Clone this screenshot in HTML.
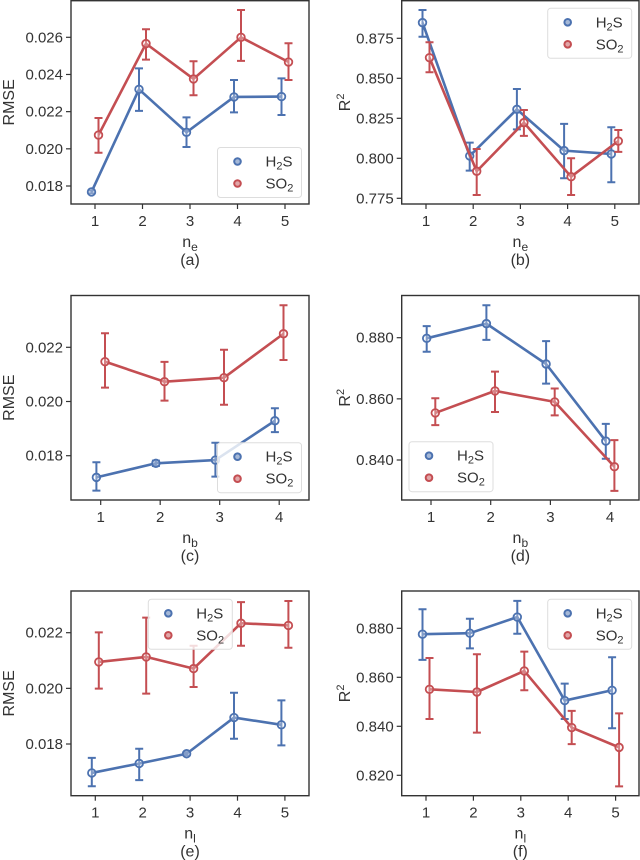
<!DOCTYPE html>
<html><head><meta charset="utf-8">
<style>
html,body{margin:0;padding:0;background:#fff;}
svg{display:block;font-family:"Liberation Sans","DejaVu Sans",sans-serif;}
</style></head>
<body>
<svg id="fig" width="640" height="860" viewBox="0 0 640 860" xmlns="http://www.w3.org/2000/svg"></svg>
<script>
// ---- data (a) ----
const aCats=[1,2,3,4,5];
const aH2S=[0.01768,0.02320,0.02089,0.02279,0.02281];
const aH2SLo=[0.01760,0.02204,0.02010,0.02196,0.02182];
const aH2SHi=[0.01776,0.02433,0.02169,0.02370,0.02379];
const aSO2=[0.02074,0.02566,0.02376,0.02600,0.02467];
const aSO2Lo=[0.01979,0.02480,0.02288,0.02473,0.02370];
const aSO2Hi=[0.02166,0.02643,0.02471,0.02747,0.02568];
const aTicks=[0.018,0.020,0.022,0.024,0.026];
const aTickLabels=["0.018","0.020","0.022","0.024","0.026"];
// ---- data (b) ----
const bCats=[1,2,3,4,5];
const bH2S=[0.8848,0.8015,0.8306,0.8048,0.8027];
const bH2SLo=[0.8760,0.7923,0.8181,0.7875,0.7850];
const bH2SHi=[0.8927,0.8098,0.8433,0.8215,0.8194];
const bSO2=[0.8629,0.7919,0.8223,0.7885,0.8108];
const bSO2Lo=[0.8538,0.7771,0.8140,0.7771,0.8040];
const bSO2Hi=[0.8725,0.8058,0.8302,0.8000,0.8177];
const bTicks=[0.775,0.800,0.825,0.850,0.875];
const bTickLabels=["0.775","0.800","0.825","0.850","0.875"];
// ---- data (c) ----
const cCats=[1,2,3,4];
const cH2S=[0.01720,0.01772,0.01784,0.01929];
const cH2SLo=[0.01671,0.01762,0.01723,0.01887];
const cH2SHi=[0.01776,0.01782,0.01848,0.01975];
const cSO2=[0.02147,0.02073,0.02088,0.02250];
const cSO2Lo=[0.02051,0.02003,0.01988,0.02153];
const cSO2Hi=[0.02252,0.02146,0.02191,0.02355];
const cTicks=[0.018,0.020,0.022];
const cTickLabels=["0.018","0.020","0.022"];
// ---- data (d) ----
const dCats=[1,2,3,4];
const dH2S=[0.8798,0.8846,0.8714,0.8462];
const dH2SLo=[0.8754,0.8793,0.8650,0.8404];
const dH2SHi=[0.8838,0.8906,0.8789,0.8518];
const dSO2=[0.8554,0.8626,0.8590,0.8378];
const dSO2Lo=[0.8514,0.8557,0.8546,0.8299];
const dSO2Hi=[0.8602,0.8689,0.8634,0.8465];
const dTicks=[0.840,0.860,0.880];
const dTickLabels=["0.840","0.860","0.880"];
// ---- data (e) ----
const eCats=[1,2,3,4,5];
const eH2S=[0.01696,0.01730,0.01765,0.01895,0.01869];
const eH2SLo=[0.01648,0.01670,0.01759,0.01819,0.01795];
const eH2SHi=[0.01750,0.01783,0.01771,0.01984,0.01957];
const eSO2=[0.02095,0.02113,0.02071,0.02234,0.02226];
const eSO2Lo=[0.01999,0.01981,0.02005,0.02153,0.02146];
const eSO2Hi=[0.02201,0.02254,0.02153,0.02310,0.02314];
const eTicks=[0.018,0.020,0.022];
const eTickLabels=["0.018","0.020","0.022"];
// ---- data (f) ----
const fCats=[1,2,3,4,5];
const fH2S=[0.8776,0.8780,0.8846,0.8505,0.8547];
const fH2SLo=[0.8671,0.8718,0.8778,0.8430,0.8392];
const fH2SHi=[0.8878,0.8839,0.8912,0.8574,0.8682];
const fSO2=[0.8551,0.8540,0.8626,0.8395,0.8314];
const fSO2Lo=[0.8430,0.8374,0.8547,0.8327,0.8155];
const fSO2Hi=[0.8679,0.8694,0.8705,0.8463,0.8453];
const fTicks=[0.820,0.840,0.860,0.880];
const fTickLabels=["0.820","0.840","0.860","0.880"];

const NS="http://www.w3.org/2000/svg";
const svg=document.getElementById('fig');
const BLUE="#4c72b0", RED="#c44e52", DARK="#333";
function mk(tag,attrs,parent){const e=document.createElementNS(NS,tag);for(const k in attrs)e.setAttribute(k,attrs[k]);(parent||svg).appendChild(e);return e;}

function panel(cfg){
  const g=mk('g',{});
  
  
  const L=cfg.box[0],R=cfg.box[1],T=cfg.box[2],B=cfg.box[3];
  const xs=v=>cfg.x0+(v-cfg.cats[0])*cfg.xstep;
  const ys=v=>cfg.y0px+(v-cfg.y0v)*(cfg.y1px-cfg.y0px)/(cfg.y1v-cfg.y0v);
  cfg.ticks.forEach((t,i)=>{
    const y=ys(t);
    const tk=mk('line',{x1:L-5,x2:L,y1:y,y2:y,stroke:DARK,'stroke-width':1.2},g);
    
    
    const tx=mk('text',{x:L-8,y:y+5,'text-anchor':'end','font-size':15,fill:DARK},g);
    
    
    tx.textContent=cfg.tickLabels[i];
  });
  cfg.cats.forEach(c=>{
    const x=xs(c);
    const tk=mk('line',{x1:x,x2:x,y1:B,y2:B+5,stroke:DARK,'stroke-width':1.2},g);
    
    
    const tx=mk('text',{x:x,y:B+22,'text-anchor':'middle','font-size':15,fill:DARK},g);
    
    
    tx.textContent=String(c);
  });
  const series=[[cfg.h,cfg.hlo,cfg.hhi,BLUE,-cfg.dodge,'h2s'],[cfg.s,cfg.slo,cfg.shi,RED,cfg.dodge,'so2']];
  series.forEach(([v,lo,hi,col,dx,nm])=>{
    const pts=v.map((val,i)=>(xs(cfg.cats[i])+dx)+','+ys(val)).join(' ');
    const pl=mk('polyline',{points:pts,fill:'none',stroke:col,'stroke-width':2.6,'stroke-linejoin':'round'},g);
    
    
    v.forEach((val,i)=>{
      const x=xs(cfg.cats[i])+dx;
      const eb=mk('path',{d:`M${x},${ys(lo[i])}V${ys(hi[i])}M${x-4},${ys(lo[i])}H${x+4}M${x-4},${ys(hi[i])}H${x+4}`,stroke:col,'stroke-width':2,fill:'none'},g);
      
      
      const pt=mk('circle',{cx:x,cy:ys(val),r:3.8,fill:'#fff','fill-opacity':0.3,stroke:col,'stroke-width':1.8},g);
      
      
    });
  });
  const fr=mk('rect',{x:L,y:T,width:R-L,height:B-T,fill:'none',stroke:DARK,'stroke-width':1.4},g);
  
  
  const lg=mk('g',{},g);
  
  
  const [lx,ly]=cfg.leg;
  mk('rect',{x:lx,y:ly,width:84,height:50,rx:3,fill:'#fff','fill-opacity':0.8,stroke:'#ddd','stroke-width':1},lg);
  [['H','2','S',BLUE],['SO','2','',RED]].forEach((e,i)=>{
    const ent=mk('g',{},lg);
    
    
    const cy=ly+14+i*22;
    mk('circle',{cx:lx+20,cy:cy,r:3.3,fill:e[3],'fill-opacity':0.5,stroke:e[3],'stroke-width':2},ent);
    const t=mk('text',{x:lx+48,y:cy+5,'font-size':15,fill:DARK},ent);
    t.innerHTML=e[0]+'<tspan font-size="11" dy="3">'+e[1]+'</tspan><tspan dy="-3">'+e[2]+'</tspan>';
  });
  const yl=mk('text',{x:0,y:0,'text-anchor':'middle','font-size':16,fill:DARK,transform:`translate(${cfg.ylx},${(T+B)/2}) rotate(-90)`},g);
  
  
  if(cfg.ylab==='R2') yl.innerHTML='R<tspan font-size="11" dy="-6">2</tspan>'; else yl.textContent=cfg.ylab;
  const xl=mk('text',{x:(L+R)/2,y:B+43,'text-anchor':'middle','font-size':16,fill:DARK},g);
  
  
  xl.innerHTML='n<tspan font-size="12" dy="4">'+cfg.sub+'</tspan>';
  const cap=mk('text',{x:(L+R)/2,y:B+61,'text-anchor':'middle','font-size':16,fill:DARK},g);
  
  
  cap.textContent='('+cfg.id+')';
}

panel({id:'a',box:[71,309,0.7,204],cats:aCats,x0:95,xstep:47.5,dodge:3.5,y0v:0.018,y0px:186,y1v:0.026,y1px:37.3,ticks:aTicks,tickLabels:aTickLabels,h:aH2S,hlo:aH2SLo,hhi:aH2SHi,s:aSO2,slo:aSO2Lo,shi:aSO2Hi,leg:[217.5,147.5],ylab:'RMSE',ylx:14,sub:'e'});
panel({id:'b',box:[401.7,639,0.7,204],cats:bCats,x0:426,xstep:47.2,dodge:3.5,y0v:0.775,y0px:198.3,y1v:0.875,y1px:38.3,ticks:bTicks,tickLabels:bTickLabels,h:bH2S,hlo:bH2SLo,hhi:bH2SHi,s:bSO2,slo:bSO2Lo,shi:bSO2Hi,leg:[547.7,8.3],ylab:'R2',ylx:350,sub:'e'});
panel({id:'c',box:[71,309,295.5,500],cats:cCats,x0:100.7,xstep:59.5,dodge:4.3,y0v:0.018,y0px:455.7,y1v:0.022,y1px:347.3,ticks:cTicks,tickLabels:cTickLabels,h:cH2S,hlo:cH2SLo,hhi:cH2SHi,s:cSO2,slo:cSO2Lo,shi:cSO2Hi,leg:[217.5,442.7],ylab:'RMSE',ylx:14,sub:'b'});
panel({id:'d',box:[401.7,639,295.5,500],cats:dCats,x0:431,xstep:59.7,dodge:4.3,y0v:0.840,y0px:460,y1v:0.880,y1px:337.7,ticks:dTicks,tickLabels:dTickLabels,h:dH2S,hlo:dH2SLo,hhi:dH2SHi,s:dSO2,slo:dSO2Lo,shi:dSO2Hi,leg:[409,441.7],ylab:'R2',ylx:350,sub:'b'});
panel({id:'e',box:[71,309,591,795.7],cats:eCats,x0:95.3,xstep:47.4,dodge:3.5,y0v:0.018,y0px:744,y1v:0.022,y1px:632.7,ticks:eTicks,tickLabels:eTickLabels,h:eH2S,hlo:eH2SLo,hhi:eH2SHi,s:eSO2,slo:eSO2Lo,shi:eSO2Hi,leg:[148.3,599.3],ylab:'RMSE',ylx:14,sub:'l'});
panel({id:'f',box:[401.7,639,591,795.7],cats:fCats,x0:426,xstep:47.4,dodge:3.5,y0v:0.820,y0px:775.3,y1v:0.880,y1px:628.3,ticks:fTicks,tickLabels:fTickLabels,h:fH2S,hlo:fH2SLo,hhi:fH2SHi,s:fSO2,slo:fSO2Lo,shi:fSO2Hi,leg:[547.7,599.3],ylab:'R2',ylx:350,sub:'l'});
</script>
</body></html>
